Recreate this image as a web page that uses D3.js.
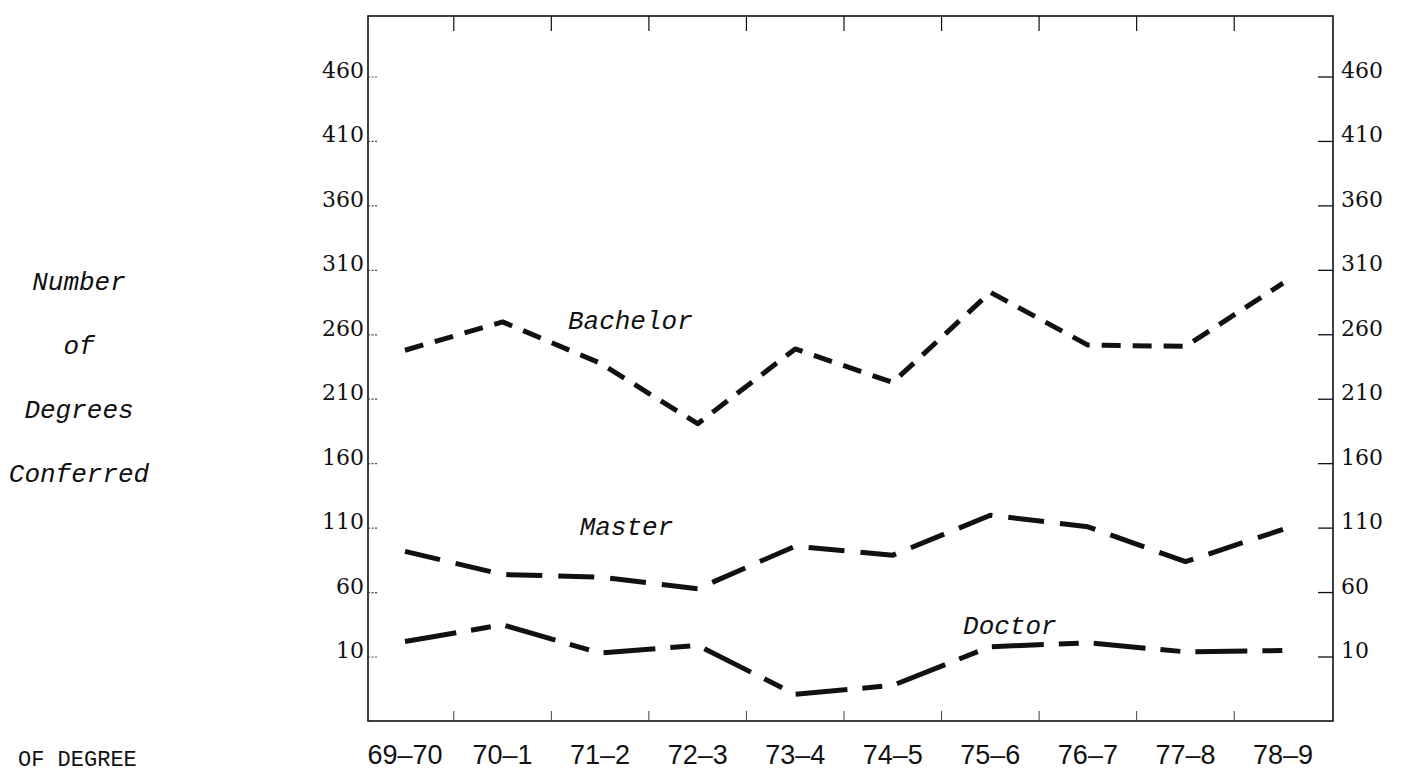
<!DOCTYPE html>
<html>
<head>
<meta charset="utf-8">
<script src="https://cdn.jsdelivr.net/npm/d3@7/dist/d3.min.js"></script>
<style>
  html, body { margin: 0; padding: 0; background: #fff; overflow: hidden; }
  svg { display: block; }
</style>
</head>
<body>
<svg id="chart" width="1409" height="775"></svg>
<script>
// ---- data ----
const categories = ["69–70", "70–1", "71–2", "72–3", "73–4", "74–5", "75–6", "76–7", "77–8", "78–9"];
const bachelor = [248, 270, 238, 191, 249, 223, 293, 252, 251, 300];
const master   = [92, 74, 72, 63, 96, 89, 120, 111, 84, 109];
const doctor   = [22, 35, 13, 19, -19, -12, 18, 21, 14, 15];
const yTickValues = [10, 60, 110, 160, 210, 260, 310, 360, 410, 460];
const yTitleLines = ["Number", "of", "Degrees", "Conferred"];
const seriesNames = ["Bachelor", "Master", "Doctor"];
const footerText = "OF DEGREE";

// ---- layout ----
const W = 1409, H = 775;
const frame = { left: 368, right: 1333, top: 16, bottom: 721 };
const svg = d3.select("#chart");

const x = d3.scalePoint().domain(categories).range([405, 1283]);
const y = d3.scaleLinear().domain([10, 460]).range([657, 77]);

const ink = "#111";
const labelFont = "'DejaVu Serif', serif";
const monoFont = "'Liberation Mono', 'Courier New', monospace";

// frame
svg.append("rect")
  .attr("x", frame.left).attr("y", frame.top)
  .attr("width", frame.right - frame.left).attr("height", frame.bottom - frame.top)
  .attr("fill", "none").attr("stroke", ink).attr("stroke-width", 1.6);

// x ticks at boundaries between categories (top: down, bottom: up)
const step = x.step();
const bounds = categories.slice(0, -1).map(c => x(c) + step / 2);
svg.append("g").selectAll("line").data(bounds).join("line")
  .attr("x1", d => d).attr("x2", d => d)
  .attr("y1", frame.top).attr("y2", frame.top + 15)
  .attr("stroke", ink).attr("stroke-width", 1.2);
svg.append("g").selectAll("line").data(bounds).join("line")
  .attr("x1", d => d).attr("x2", d => d)
  .attr("y1", frame.bottom).attr("y2", frame.bottom - 10)
  .attr("stroke", "#444").attr("stroke-width", 1);

// bottom category labels
svg.append("g").selectAll("text").data(categories).join("text")
  .attr("x", d => x(d)).attr("y", 764)
  .attr("text-anchor", "middle")
  .attr("font-family", "'Liberation Sans', Arial, sans-serif")
  .attr("font-size", 27).attr("fill", ink)
  .text(d => d);

// left y axis: ticks inward, labels outside
const gl = svg.append("g");
gl.selectAll("line").data(yTickValues).join("line")
  .attr("x1", frame.left).attr("x2", frame.left + 9)
  .attr("y1", d => y(d)).attr("y2", d => y(d))
  .attr("stroke", "#444").attr("stroke-width", 1.2).attr("stroke-dasharray", "2 1.5");
gl.selectAll("text").data(yTickValues).join("text")
  .attr("x", frame.left - 4).attr("y", d => y(d) + 1)
  .attr("text-anchor", "end")
  .attr("font-family", labelFont).attr("font-size", 22).attr("fill", ink)
  .text(d => d);

// right y axis: ticks inward, labels outside
const gr = svg.append("g");
gr.selectAll("line").data(yTickValues).join("line")
  .attr("x1", frame.right - 15).attr("x2", frame.right)
  .attr("y1", d => y(d)).attr("y2", d => y(d))
  .attr("stroke", ink).attr("stroke-width", 1.3);
gr.selectAll("text").data(yTickValues).join("text")
  .attr("x", frame.right + 8).attr("y", d => y(d) + 1)
  .attr("text-anchor", "start")
  .attr("font-family", labelFont).attr("font-size", 22).attr("fill", ink)
  .text(d => d);

// y title (stacked lines)
svg.append("g").selectAll("text").data(yTitleLines).join("text")
  .attr("x", 79).attr("y", (d, i) => 290 + i * 64)
  .attr("text-anchor", "middle")
  .attr("font-family", monoFont).attr("font-style", "italic")
  .attr("font-size", 26).attr("fill", ink)
  .text(d => d);

// series lines
const series = [
  { name: seriesNames[0], values: bachelor, dash: "19 12" },
  { name: seriesNames[1], values: master,   dash: "36 16" },
  { name: seriesNames[2], values: doctor,   dash: "52 15 20 15" }
];
const line = d3.line().x((d, i) => x(categories[i])).y(d => y(d));
svg.append("g").selectAll("path").data(series).join("path")
  .attr("d", s => line(s.values))
  .attr("fill", "none").attr("stroke", ink)
  .attr("stroke-width", 5).attr("stroke-linejoin", "round")
  .attr("stroke-dasharray", s => s.dash);

// series annotations (position expressed in category index / value units)
const xi = i => x(categories[0]) + i * step;
const annot = [
  { name: seriesNames[0], i: 2.31, v: 271 },
  { name: seriesNames[1], i: 2.27, v: 111 },
  { name: seriesNames[2], i: 6.20, v: 34 }
];
svg.append("g").selectAll("text").data(annot).join("text")
  .attr("x", d => xi(d.i)).attr("y", d => y(d.v) + 8)
  .attr("text-anchor", "middle")
  .attr("font-family", monoFont).attr("font-style", "italic")
  .attr("font-size", 26).attr("fill", ink)
  .text(d => d.name);

// footer text (kept fully visible at the bottom-left edge)
svg.append("text")
  .attr("x", 18).attr("y", 766)
  .attr("font-family", monoFont).attr("font-size", 22).attr("fill", ink)
  .text(footerText);
</script>
</body>
</html>
